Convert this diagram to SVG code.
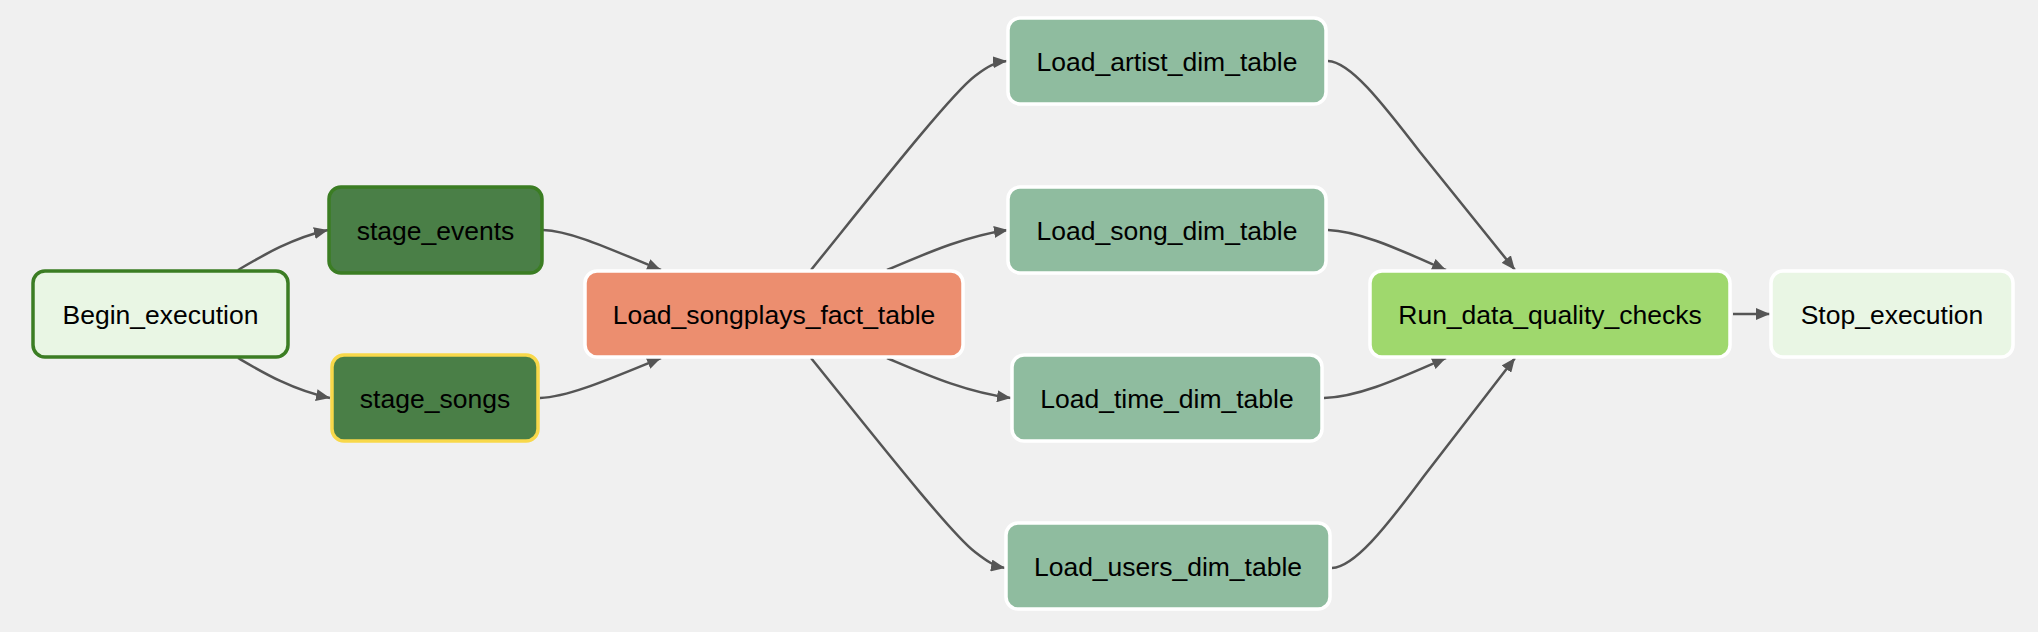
<svg xmlns="http://www.w3.org/2000/svg" width="2038" height="632" viewBox="0 0 2038 632">
<defs>
<style>
.node rect{stroke-width:3.5}
.node text{font-family:"Liberation Sans",Arial,Helvetica,sans-serif;font-size:26.5px;fill:#000;text-anchor:middle}
.edge{fill:none;stroke:#555;stroke-width:2.5;marker-end:url(#arrow)}
</style>
<marker id="arrow" viewBox="0 0 14 12" refX="14" refY="6" markerWidth="14" markerHeight="12" markerUnits="userSpaceOnUse" orient="auto">
<path d="M0,0 L14,6 L0,12 Z" fill="#555"/>
</marker>
</defs>
<rect width="2038" height="632" fill="#f0f0f0"/>
<g id="connectors">
<path class="edge" d="M238,270 C262,256 292,238 328,230"/>
<path class="edge" d="M238,358 C262,372 292,390 330,398"/>
<path class="edge" d="M543,230 C572,231 612,250 661,270"/>
<path class="edge" d="M540,398 C569,397 612,378 661,358"/>
<path class="edge" d="M811,270 C870,197 950,95 975,76 C988,66 996,62 1007,61"/>
<path class="edge" d="M887,270 C925,254 965,236 1008,230"/>
<path class="edge" d="M887,358 C925,374 965,392 1011,398"/>
<path class="edge" d="M811,358 C870,431 950,533 975,552 C988,562 994,566 1005,568"/>
<path class="edge" d="M1328,61 C1350,62 1380,100 1420,152 L1515,270"/>
<path class="edge" d="M1328,230 C1360,231 1402,251 1446,270"/>
<path class="edge" d="M1324,398 C1360,397 1402,377 1446,358"/>
<path class="edge" d="M1332,568 C1354,567 1384,530 1424,476 L1515,358"/>
<path class="edge" d="M1733,314 L1770,314"/>
</g>
<g id="Begin_execution" class="node">
<rect x="33" y="271" width="255" height="86" rx="12" fill="#e9f6e4" stroke="#3b7d23"/>
<text x="160.5" y="324">Begin_execution</text>
</g>
<g id="stage_events" class="node">
<rect x="329" y="187" width="213" height="86" rx="12" fill="#4a7f47" stroke="#3b7d23"/>
<text x="435.5" y="240">stage_events</text>
</g>
<g id="stage_songs" class="node">
<rect x="332" y="355" width="206" height="86" rx="12" fill="#4a7f47" stroke="#f8d84a"/>
<text x="435" y="408">stage_songs</text>
</g>
<g id="Load_songplays_fact_table" class="node">
<rect x="585" y="271" width="378" height="86" rx="12" fill="#ec8e6f" stroke="#fff"/>
<text x="774" y="324">Load_songplays_fact_table</text>
</g>
<g id="Load_artist_dim_table" class="node">
<rect x="1008" y="18" width="318" height="86" rx="12" fill="#8fbc9f" stroke="#fff"/>
<text x="1167" y="71">Load_artist_dim_table</text>
</g>
<g id="Load_song_dim_table" class="node">
<rect x="1008" y="187" width="318" height="86" rx="12" fill="#8fbc9f" stroke="#fff"/>
<text x="1167" y="240">Load_song_dim_table</text>
</g>
<g id="Load_time_dim_table" class="node">
<rect x="1012" y="355" width="310" height="86" rx="12" fill="#8fbc9f" stroke="#fff"/>
<text x="1167" y="408">Load_time_dim_table</text>
</g>
<g id="Load_users_dim_table" class="node">
<rect x="1006" y="523" width="324" height="86" rx="12" fill="#8fbc9f" stroke="#fff"/>
<text x="1168" y="576">Load_users_dim_table</text>
</g>
<g id="Run_data_quality_checks" class="node">
<rect x="1370" y="271" width="360" height="86" rx="12" fill="#9fd86d" stroke="#fff"/>
<text x="1550" y="324">Run_data_quality_checks</text>
</g>
<g id="Stop_execution" class="node">
<rect x="1771" y="271" width="242" height="86" rx="12" fill="#e9f6e4" stroke="#fff"/>
<text x="1892" y="324">Stop_execution</text>
</g>
</svg>
